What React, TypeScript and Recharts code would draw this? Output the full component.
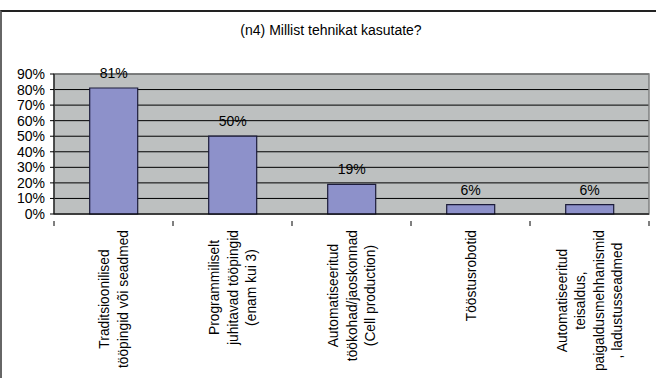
import React from "react";
import { Bar, BarChart, CartesianGrid, LabelList, ReferenceArea, XAxis, YAxis } from "recharts";

const categories = [
  ["Traditsioonilised", "tööpingid või seadmed"],
  ["Programmiliselt", "juhitavad tööpingid", "(enam kui 3)"],
  ["Automatiseeritud", "töökohad/jaoskonnad", "(Cell production)"],
  ["Tööstusrobotid"],
  ["Automatiseeritud", "teisaldus,", "paigaldusmehhanismid", ", ladustusseadmed"],
];
const shares = [81, 50, 19, 6, 6];
const yTicks = [0, 10, 20, 30, 40, 50, 60, 70, 80, 90];
const title = "(n4) Millist tehnikat kasutate?";

const W = 656;
const H = 378;
const FONT = "'Liberation Sans', Arial, sans-serif";
const LABEL_SIZE = 13.8;
const LINE_H = 18.5;

const data = categories.map((lines, i) => ({ name: lines.join(" "), lines, value: shares[i] }));

let ctx: CanvasRenderingContext2D | null = null;
function textWidth(s: string) {
  if (!ctx) ctx = document.createElement("canvas").getContext("2d");
  if (!ctx) return s.length * 7;
  ctx.font = `${LABEL_SIZE}px ${FONT}`;
  return ctx.measureText(s).width;
}

const plotLeft = 54;
const plotRight = 7;
const step = (W - plotLeft - plotRight) / categories.length;

function CategoryTick(props: any) {
  const { x, y, payload, index } = props;
  const lines: string[] = data[index]?.lines ?? [payload.value];
  const longest = Math.max(...lines.map(textWidth));
  const top = y + 8;
  const cy = top + longest / 2;
  const x0 = x - ((lines.length - 1) * LINE_H) / 2;
  return (
    <g>
      <line x1={x + step / 2} x2={x + step / 2} y1={y - 1} y2={y + 4} stroke="#000" />
      {index === 0 && <line x1={x - step / 2} x2={x - step / 2} y1={y - 1} y2={y + 4} stroke="#000" />}
      {lines.map((ln, i) => (
        <text
          key={i}
          x={0}
          y={0}
          transform={`translate(${x0 + i * LINE_H + 5},${cy}) rotate(-90)`}
          textAnchor="middle"
          fontSize={LABEL_SIZE}
          fontFamily={FONT}
          fill="#000"
        >
          {ln}
        </text>
      ))}
    </g>
  );
}

export default function App() {
  return (
    <div style={{ position: "absolute", left: 0, top: 0, width: W, height: H, background: "#fff", overflow: "hidden" }}>
      <div
        style={{
          position: "absolute",
          left: 0,
          top: 10,
          width: W,
          height: H - 10,
          borderTop: "2px solid #222",
          borderLeft: "2px solid #666",
        }}
      />
      <div
        style={{
          position: "absolute",
          left: 0,
          width: 662,
          top: 22,
          textAlign: "center",
          fontFamily: FONT,
          fontSize: 14,
        }}
      >
        {title}
      </div>
      <BarChart
        width={W}
        height={H}
        data={data}
        margin={{ top: 74, right: plotRight, left: 0, bottom: 0 }}
        barCategoryGap="30%"
        style={{ position: "absolute", left: 0, top: 0 }}
      >
        <CartesianGrid horizontal vertical={false} fill="#BDC0C0" stroke="#000" strokeOpacity={1} />
        <ReferenceArea y1={0} y2={90} fill="none" stroke="#7f8080" strokeWidth={1.5} ifOverflow="visible" />
        <XAxis
          dataKey="name"
          height={164}
          interval={0}
          tickLine={false}
          axisLine={{ stroke: "#000" }}
          tick={<CategoryTick />}
        />
        <YAxis
          width={plotLeft}
          domain={[0, 90]}
          ticks={yTicks}
          interval={0}
          tickFormatter={(v: number) => `${v}%`}
          tickSize={4}
          tickMargin={5}
          axisLine={{ stroke: "#000" }}
          tickLine={{ stroke: "#000" }}
          tick={{ fill: "#000", fontSize: 14, fontFamily: FONT }}
        />
        <Bar dataKey="value" fill="#8D91CA" stroke="#1c1c3a" strokeWidth={1.2} isAnimationActive={false}>
          <LabelList
            dataKey="value"
            position="top"
            offset={10}
            formatter={(v: any) => `${v}%`}
            style={{ fill: "#000", fontSize: 14, fontFamily: FONT }}
          />
        </Bar>
      </BarChart>
    </div>
  );
}
